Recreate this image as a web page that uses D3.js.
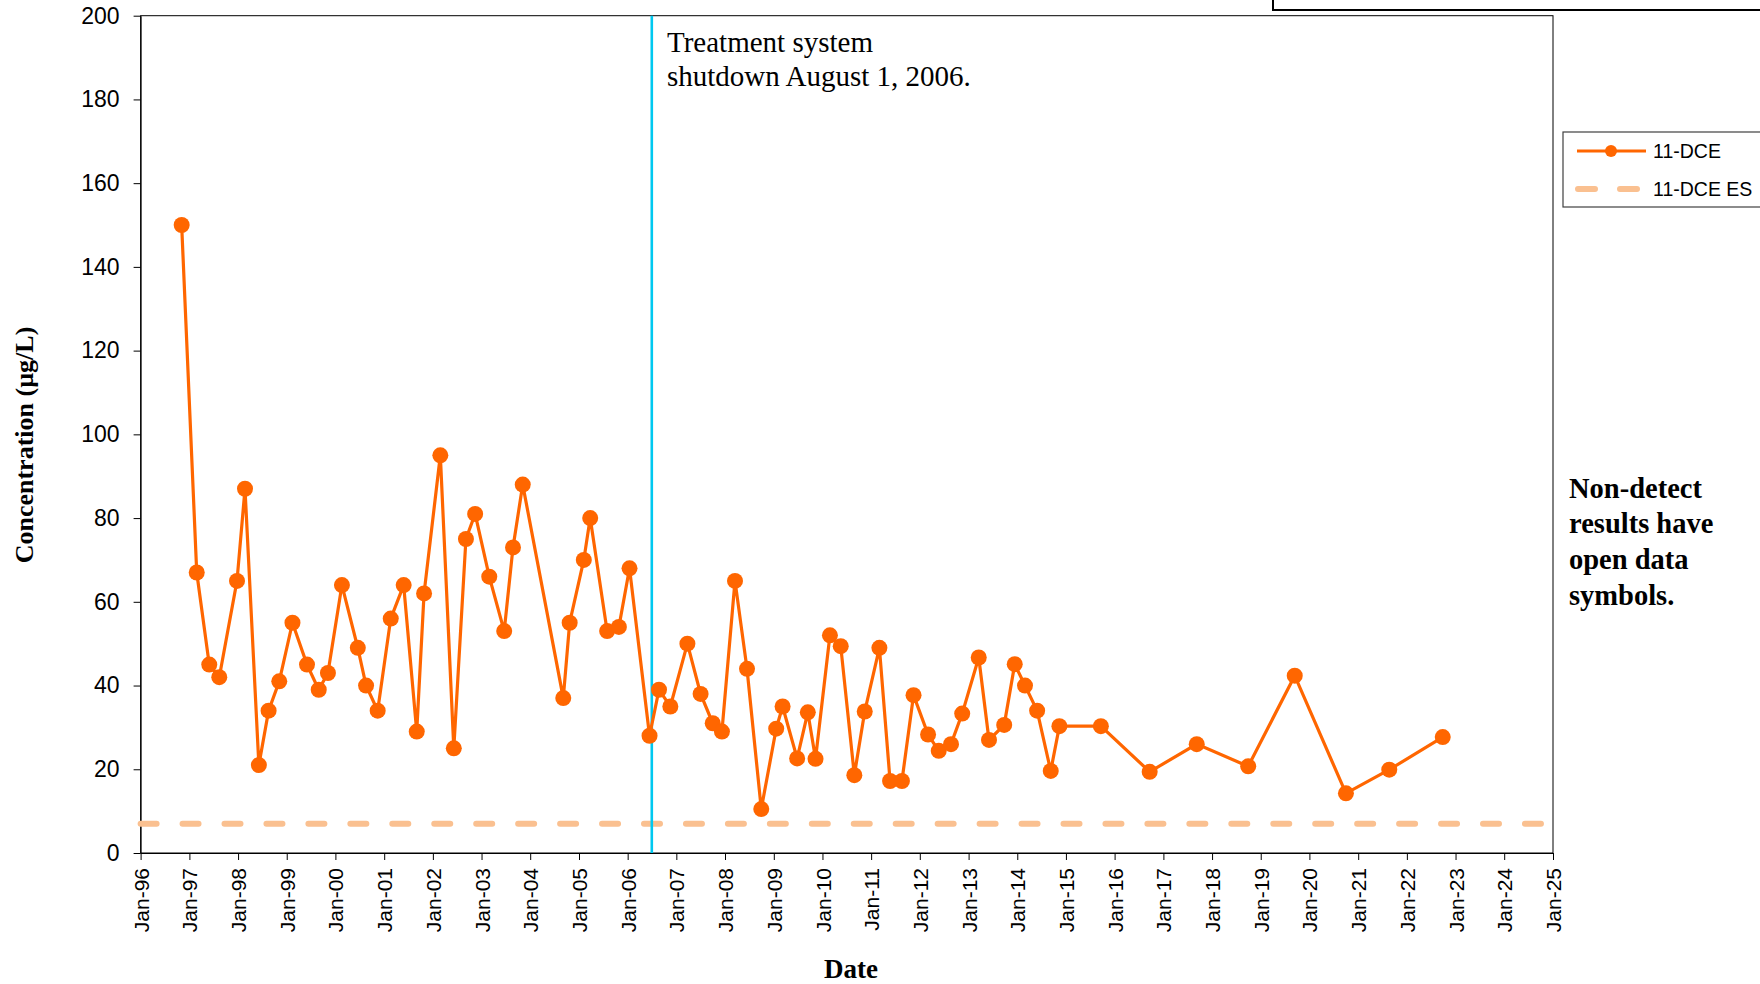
<!DOCTYPE html>
<html>
<head>
<meta charset="utf-8">
<script src="https://cdn.jsdelivr.net/npm/d3@7"></script>
<style>
body { margin: 0; background: #fff; }
svg { display: block; }
.axis path, .axis line { stroke: #000; stroke-width: 1px; }
.axis text { font-family: Arial, "Liberation Sans", sans-serif; fill: #000; }
.serif { font-family: "Palatino Linotype", "Book Antiqua", Palatino, "Liberation Serif", serif; fill: #000; }
.legtext { font-family: Arial, "Liberation Sans", sans-serif; font-size: 19.5px; fill: #000; }
</style>
</head>
<body>
<script>
// sampling dates and 11-DCE results (ug/L)
var sampleDates = ['1996-11-04', '1997-02-25', '1997-05-30', '1997-08-13', '1997-12-24', '1998-02-22', '1998-06-06', '1998-08-18', '1998-11-06',
    '1999-02-13', '1999-06-02', '1999-08-29', '1999-11-06', '2000-02-19', '2000-06-17', '2000-08-18', '2000-11-13',
    '2001-02-19', '2001-05-27', '2001-09-02', '2001-10-27', '2002-02-26', '2002-06-07', '2002-09-06', '2002-11-14',
    '2003-02-28', '2003-06-20', '2003-08-25', '2003-11-06', '2004-09-05', '2004-10-23', '2005-02-06', '2005-03-26',
    '2005-07-31', '2005-10-27', '2006-01-15', '2006-06-14', '2006-08-24', '2006-11-17', '2007-03-25', '2007-07-02',
    '2007-10-01', '2007-12-09', '2008-03-16', '2008-06-14', '2008-09-29', '2009-01-19', '2009-03-08', '2009-06-25',
    '2009-09-13', '2009-11-10', '2010-02-26', '2010-05-18', '2010-08-28', '2010-11-14', '2011-03-04', '2011-05-23',
    '2011-08-20', '2011-11-15', '2012-03-03', '2012-05-22', '2012-08-22', '2012-11-14', '2013-03-18', '2013-06-03',
    '2013-09-25', '2013-12-13', '2014-02-28', '2014-05-30', '2014-09-09', '2014-11-13', '2015-09-20', '2016-09-20',
    '2017-09-08', '2018-09-29', '2019-09-13', '2020-10-01', '2021-08-22', '2022-09-27']
  , dceValues = [150, 67, 45, 42, 65, 87, 21, 34, 41,
    55, 45, 39, 43, 64, 49, 40, 34,
    56, 64, 29, 62, 95, 25, 75, 81,
    66, 53, 73, 88, 37, 55, 70, 80,
    53, 54, 68, 28, 39, 35, 50, 38,
    31, 29, 65, 44, 10.5, 29.7, 35, 22.6,
    33.6, 22.5, 52, 49.4, 18.6, 33.8, 49, 17.2,
    17.2, 37.7, 28.3, 24.4, 26, 33.3, 46.7, 27,
    30.6, 45.1, 40, 34, 19.6, 30.3, 30.3, 19.4,
    26, 20.7, 42.35, 14.25, 19.9, 27.7]
  , esLevel = 7
  , yTicks = [0, 20, 40, 60, 80, 100, 120, 140, 160, 180, 200]
  , dateRange = ['1996-01-01', '2025-01-01']
  , shutdownDate = '2006-07-01'
  , noteLines = ['Treatment system', 'shutdown August 1, 2006.']
  , ndLines = ['Non-detect', 'results have', 'open data', 'symbols.']
  , legendNames = ['11-DCE', '11-DCE ES'];

var parse = d3.timeParse('%Y-%m-%d')
  , ww = 1760
  , hh = 984
  , margin = {top: 15.7, right: 207, bottom: 131, left: 140.6}
  , width = ww - margin.left - margin.right
  , height = hh - margin.top - margin.bottom
  , orange = '#ff6600'
  , esColor = '#fac090'
  , data = sampleDates.map((d, i) => ({date: parse(d), value: dceValues[i]}));

var x = d3.scaleTime().domain(dateRange.map(parse)).range([0, width])
  , y = d3.scaleLinear().domain([0, 200]).range([height, 0])
  , xAxis = d3.axisBottom(x).ticks(d3.timeYear.every(1)).tickFormat(d3.timeFormat('%b-%y')).tickSizeInner(7).tickSizeOuter(0)
  , yAxis = d3.axisLeft(y).tickValues(yTicks).tickSizeInner(7).tickSizeOuter(0).tickPadding(14);

var svgm = d3.select('body').append('svg').attr('width', ww).attr('height', hh);

// box peeking in at the top right
svgm.append('rect').attr('x', 1273).attr('y', -20).attr('width', 600).attr('height', 30)
    .attr('fill', 'none').attr('stroke', '#000').attr('stroke-width', 2);

var svg = svgm.append('g').attr('transform', `translate(${margin.left},${margin.top})`);

// plot frame
svg.append('rect').attr('width', width).attr('height', height).attr('fill', 'none').attr('stroke', '#000').attr('stroke-width', 1);

var svgX = svg.append('g').attr('class', 'axis').attr('transform', `translate(0,${height})`).call(xAxis);
svgX.selectAll('text').style('font-size', '21px').attr('transform', 'rotate(-90)').attr('text-anchor', 'end')
    .attr('x', -15).attr('y', 0).attr('dy', '0.36em');

var svgY = svg.append('g').attr('class', 'axis').call(yAxis);
svgY.selectAll('text').style('font-size', '23px');

// ES line
svg.append('line').attr('x1', x(parse(dateRange[0]))).attr('x2', x(parse(dateRange[1])))
    .attr('y1', y(esLevel)).attr('y2', y(esLevel))
    .attr('stroke', esColor).attr('stroke-width', 6).attr('stroke-linecap', 'round').attr('stroke-dasharray', '16,25.95');

// shutdown marker
svg.append('line').attr('x1', x(parse(shutdownDate))).attr('x2', x(parse(shutdownDate)))
    .attr('y1', 0).attr('y2', height).attr('stroke', '#00c8f0').attr('stroke-width', 2.6);

var line = d3.line().x(d => x(d.date)).y(d => y(d.value));
svg.append('path').datum(data).attr('d', line).attr('fill', 'none').attr('stroke', orange).attr('stroke-width', 3.2);
svg.append('g').selectAll('circle').data(data).enter().append('circle')
    .attr('cx', d => x(d.date)).attr('cy', d => y(d.value)).attr('r', 8).attr('fill', orange);

// annotation
var note = svgm.append('text').attr('class', 'serif').style('font-size', '29px');
noteLines.forEach((t, i) => {
    note.append('tspan').attr('x', 667).attr('y', 51.7 + i * 34.5).text(t);
});

// axis titles
svgm.append('text').attr('class', 'serif').style('font-size', '26px').style('font-weight', 'bold')
    .attr('text-anchor', 'middle').attr('transform', 'translate(33,445) rotate(-90)').text('Concentration (µg/L)');
svgm.append('text').attr('class', 'serif').style('font-size', '27px').style('font-weight', 'bold')
    .attr('text-anchor', 'middle').attr('x', 851).attr('y', 978).text('Date');

// legend
var leg = svgm.append('g');
leg.append('rect').attr('x', 1563).attr('y', 132).attr('width', 240).attr('height', 75)
    .attr('fill', '#fff').attr('stroke', '#404040').attr('stroke-width', 1.2);
leg.append('line').attr('x1', 1577).attr('x2', 1646).attr('y1', 151).attr('y2', 151).attr('stroke', orange).attr('stroke-width', 3);
leg.append('circle').attr('cx', 1611).attr('cy', 151).attr('r', 6).attr('fill', orange);
leg.append('line').attr('x1', 1578).attr('x2', 1640).attr('y1', 189).attr('y2', 189).attr('stroke', esColor)
    .attr('stroke-width', 6).attr('stroke-linecap', 'round').attr('stroke-dasharray', '17,25');
legendNames.forEach((t, i) => {
    leg.append('text').attr('class', 'legtext').attr('x', 1653).attr('y', 157.5 + i * 38).text(t);
});

// non-detect note
var nd = svgm.append('text').attr('class', 'serif').style('font-size', '28.5px').style('font-weight', 'bold');
ndLines.forEach((t, i) => {
    nd.append('tspan').attr('x', 1569).attr('y', 497.7 + i * 35.7).text(t);
});
</script>
</body>
</html>
